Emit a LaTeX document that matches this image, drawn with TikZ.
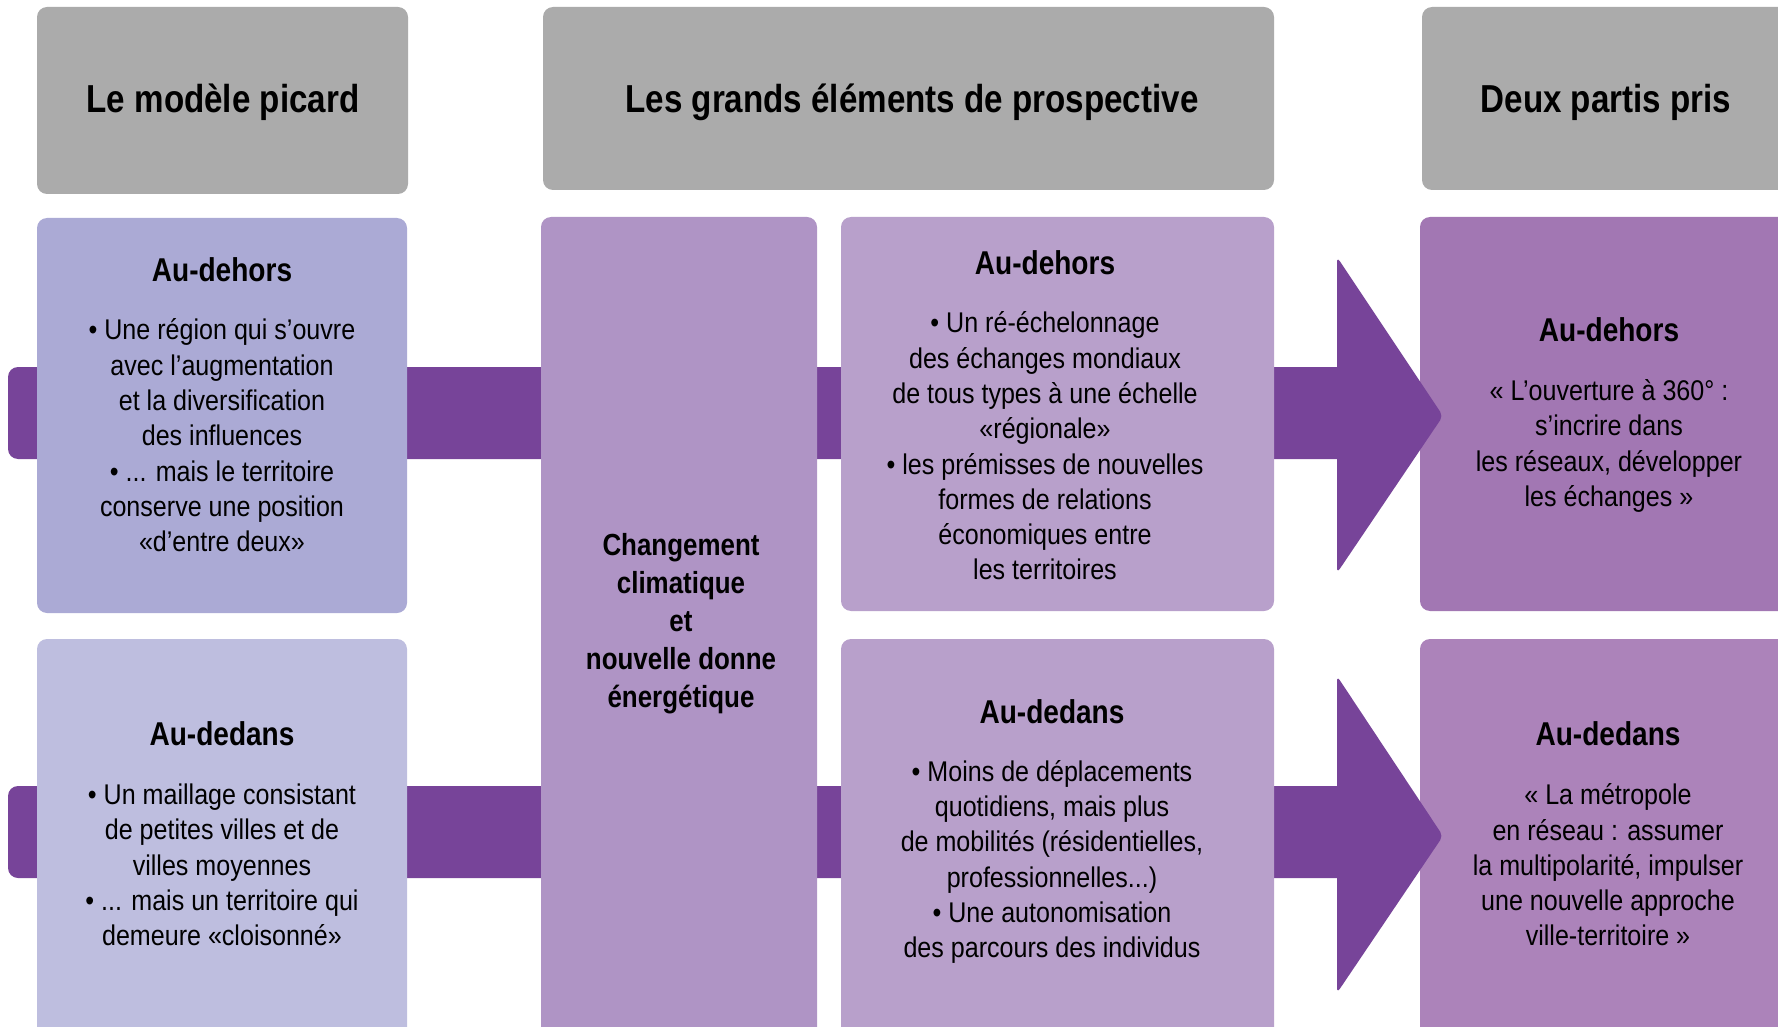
\documentclass[tikz,border=0pt]{standalone}
\usepackage{fontspec}
\setmainfont{Liberation Sans}
\newfontfamily\bodyf[FakeStretch=0.88]{Liberation Sans}
\newfontfamily\headf[FakeStretch=0.85]{Liberation Sans}
\definecolor{greyc}{HTML}{ABABAB}
\definecolor{lone}{HTML}{ABAAD5}
\definecolor{ltwo}{HTML}{BEBEDF}
\definecolor{cen}{HTML}{AF94C5}
\definecolor{mid}{HTML}{B8A0CB}
\definecolor{rone}{HTML}{A277B3}
\definecolor{rtwo}{HTML}{AC83BA}
\definecolor{arr}{HTML}{774499}
\tikzset{
  box/.style={rectangle, rounded corners=10pt, inner sep=0pt, draw=none},
  titletext/.style={font=\headf\bfseries\fontsize{39}{45}\selectfont, text=black, inner sep=0pt},
  headtext/.style={font=\headf\bfseries\fontsize{33}{38}\selectfont, text=black, inner sep=0pt},
  bodytext/.style={font=\bodyf\fontsize{28.5}{35.3}\selectfont, align=center, text=black, inner sep=0pt},
  centext/.style={font=\headf\bfseries\fontsize{30.5}{38}\selectfont, align=center, text=black, inner sep=0pt},
  bigarrow/.style={fill=arr, draw=none}
}
\begin{document}
\begin{tikzpicture}[x=1pt,y=-1pt]
\useasboundingbox (0,0) rectangle (1778,1027);
\clip (0,0) rectangle (1778,1027);
% right-hand boxes (the arrow tips lie over them)
\node[box, fill=rone, minimum width=380pt, minimum height=394pt] (R1) at (1610,414) {};
\node[box, fill=rtwo, minimum width=380pt, minimum height=411pt] (R2) at (1610,844.5) {};
% big arrows
\path[bigarrow] (1337,459) [rounded corners=10pt] -- (8,459) -- (8,367) [sharp corners] -- (1337,367) [rounded corners=5pt] -- (1337,257) -- (1443,416) -- (1337,573) [sharp corners] -- cycle;
\path[bigarrow] (1337,878) [rounded corners=10pt] -- (8,878) -- (8,786) [sharp corners] -- (1337,786) [rounded corners=5pt] -- (1337,676) -- (1443,836) -- (1337,993) [sharp corners] -- cycle;
% header boxes
\node[box, fill=greyc, minimum width=371pt, minimum height=187pt] (g1) at (222.5,100.5) {};
\node[box, fill=greyc, minimum width=731pt, minimum height=183pt] (g2) at (908.5,98.5) {};
\node[box, fill=greyc, minimum width=378pt, minimum height=183pt] (g3) at (1611,98.5) {};
% content boxes
\node[box, fill=lone, minimum width=370pt, minimum height=395pt] (L1) at (222,415.5) {};
\node[box, fill=ltwo, minimum width=370pt, minimum height=411pt] (L2) at (222,844.5) {};
\node[box, fill=cen, minimum width=276pt, minimum height=833pt] (C) at (679,633.5) {};
\node[box, fill=mid, minimum width=433pt, minimum height=394pt] (M1) at (1057.5,414) {};
\node[box, fill=mid, minimum width=433pt, minimum height=411pt] (M2) at (1057.5,844.5) {};
% titles
\node[titletext] (t1) at (223,102.5) {Le modèle picard};
\node[titletext] (t2) at (912,102.5) {Les grands éléments de prospective};
\node[titletext] (t3) at (1606,102.5) {Deux partis pris};
% left column
\node[headtext] (L1h) at (222,270) {Au-dehors};
\node[bodytext] (L1b) at (222,435.5) {• Une région qui s’ouvre\\avec l’augmentation\\et la diversification\\des influences\\• ... mais le territoire\\conserve une position\\«d’entre deux»};
\node[headtext] (L2h) at (222,734) {Au-dedans};
\node[bodytext] (L2b) at (222,865) {• Un maillage consistant\\de petites villes et de\\villes moyennes\\• ... mais un territoire qui\\demeure «cloisonné»};
% centre
\node[centext] (Ct) at (681,623.5) {Changement\\climatique\\et\\nouvelle donne\\énergétique};
% middle column
\node[headtext] (M1h) at (1045,263) {Au-dehors};
\node[bodytext] (M1b) at (1045,446) {• Un ré-échelonnage\\des échanges mondiaux\\de tous types à une échelle\\«régionale»\\• les prémisses de nouvelles\\formes de relations\\économiques entre\\les territoires};
\node[headtext] (M2h) at (1052,712) {Au-dedans};
\node[bodytext] (M2b) at (1052,862) {• Moins de déplacements\\quotidiens, mais plus\\de mobilités (résidentielles,\\professionnelles...)\\• Une autonomisation\\des parcours des individus};
% right column
\node[headtext] (R1h) at (1609,330) {Au-dehors};
\node[bodytext] (R1b) at (1609,446) {« L’ouverture à 360° :\\s’incrire dans\\les réseaux, développer\\les échanges »};
\node[headtext] (R2h) at (1608,734) {Au-dedans};
\node[bodytext] (R2b) at (1608,865) {« La métropole\\en réseau : assumer\\la multipolarité, impulser\\une nouvelle approche\\ville-territoire »};
\end{tikzpicture}
\end{document}
